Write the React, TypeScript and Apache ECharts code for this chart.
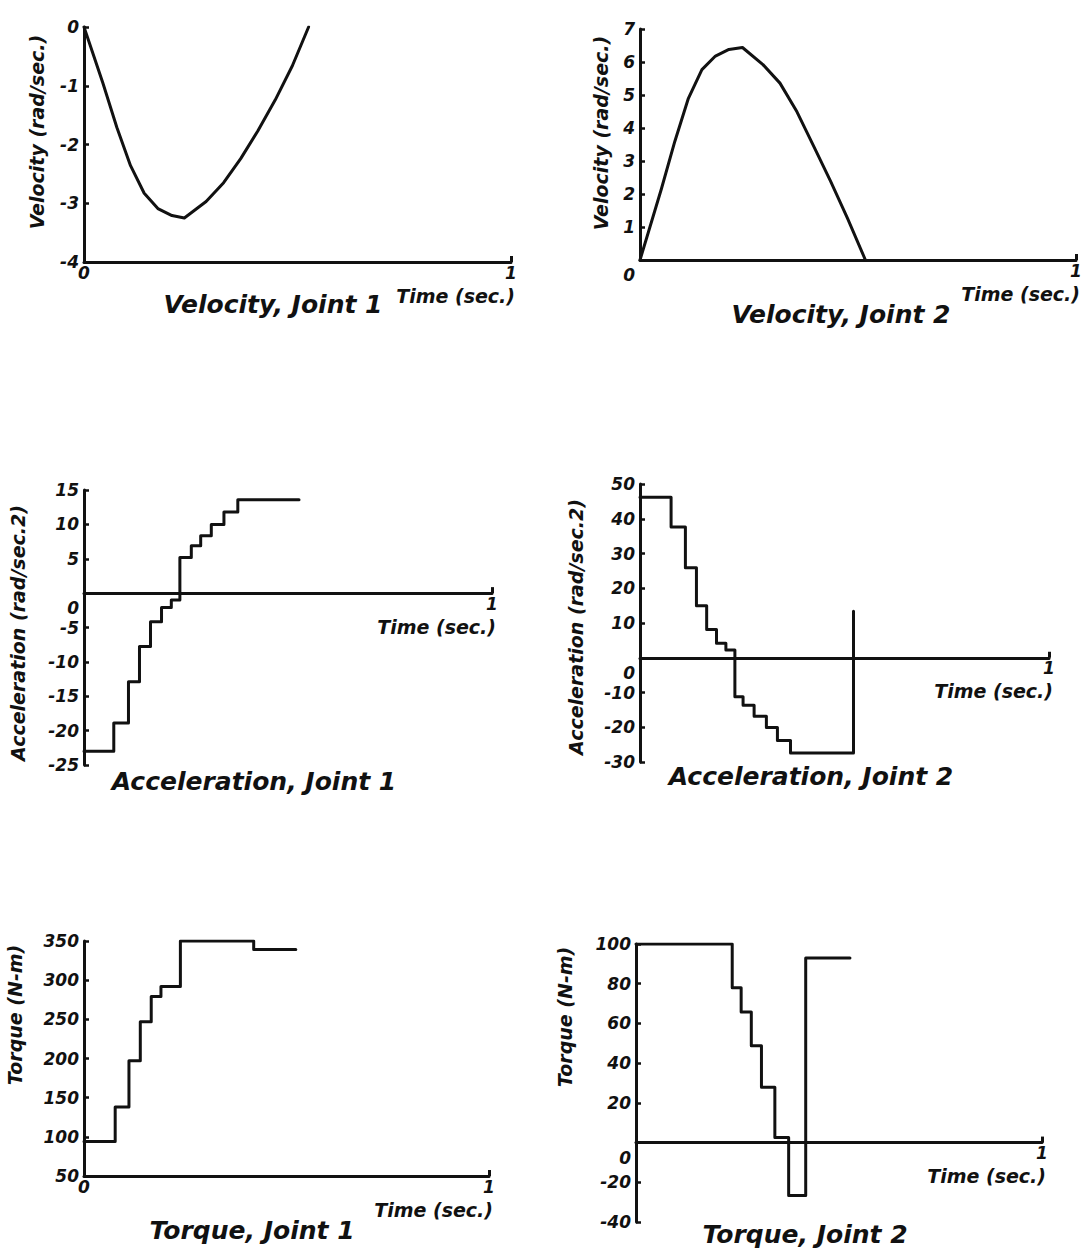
import React, { useEffect, useRef } from "react";
import * as echarts from "echarts";

// ---- Data ----
const velocity1Time = [0, 0.044, 0.077, 0.109, 0.141, 0.173, 0.206, 0.235, 0.286, 0.327, 0.367, 0.407, 0.448, 0.488, 0.526];
const velocity1Value = [0, -0.95, -1.71, -2.36, -2.83, -3.09, -3.21, -3.25, -2.97, -2.65, -2.24, -1.77, -1.24, -0.66, 0];

const velocity2Time = [0, 0.049, 0.08, 0.111, 0.142, 0.173, 0.204, 0.235, 0.282, 0.321, 0.36, 0.398, 0.437, 0.476, 0.517];
const velocity2Value = [0, 2.15, 3.6, 4.9, 5.77, 6.18, 6.38, 6.44, 5.92, 5.36, 4.49, 3.46, 2.39, 1.26, 0];

const accel1Time = [0, 0.073, 0.109, 0.136, 0.163, 0.19, 0.214, 0.235, 0.263, 0.286, 0.312, 0.343, 0.377, 0.527];
const accel1Value = [-23, -18.9, -12.9, -7.75, -4.15, -2.1, -1.0, 5.2, 6.9, 8.35, 10.0, 11.8, 13.6, 13.6];

const accel2Time = [0, 0.076, 0.111, 0.138, 0.163, 0.187, 0.21, 0.232, 0.252, 0.279, 0.309, 0.336, 0.368, 0.522, 0.522];
const accel2Value = [46.2, 37.6, 25.9, 15.0, 8.1, 4.2, 2.2, -11.2, -13.7, -16.8, -20.1, -23.8, -27.4, -27.4, 13.4];

const torque1Time = [0, 0.077, 0.111, 0.139, 0.166, 0.19, 0.238, 0.419, 0.523];
const torque1Value = [94, 138, 197, 247, 279, 292, 350, 339, 339];

const torque2Time = [0, 0.237, 0.259, 0.284, 0.309, 0.342, 0.376, 0.418, 0.527];
const torque2Value = [100, 78, 65.7, 48.7, 27.8, 2.6, -26.6, 93, 93];

const panelTitles = [
  "Velocity, Joint 1",
  "Velocity, Joint 2",
  "Acceleration, Joint 1",
  "Acceleration, Joint 2",
  "Torque, Joint 1",
  "Torque, Joint 2",
];
const yAxisNames = [
  "Velocity (rad/sec.)",
  "Velocity (rad/sec.)",
  "Acceleration (rad/sec.2)",
  "Acceleration (rad/sec.2)",
  "Torque (N-m)",
  "Torque (N-m)",
];
const yMin = [-4, 0, -25, -30, 50, -40];
const yMax = [0, 7, 15, 50, 350, 100];
const yInterval = [1, 1, 5, 10, 50, 20];
const xAxisName = "Time (sec.)";

// ---- Layout / style ----
const FONT = '"DejaVu Sans", "Liberation Sans", Arial, sans-serif';
const INK = "#111";

const grids = [
  { left: 84, top: 27, width: 427, height: 235 },
  { left: 640, top: 29, width: 436, height: 231 },
  { left: 84, top: 490, width: 408, height: 275 },
  { left: 640, top: 484, width: 409, height: 278 },
  { left: 84, top: 941, width: 405, height: 235 },
  { left: 636, top: 944, width: 406, height: 278 },
];
// x axis drawn through y = 0 (panels whose y range spans zero inside the plot)
const xThroughZero = [false, false, true, true, false, true];
const showX0 = [true, false, false, false, true, false];
const shiftY0 = [false, true, true, true, false, true];
const isStep = [false, false, true, true, true, true];

const titlePos = [
  [273, 304],
  [841, 314],
  [254, 781],
  [811, 776],
  [252, 1230],
  [805, 1234],
];
const yNamePos = [
  [37, 132],
  [601, 133],
  [18, 633],
  [576, 627],
  [15, 1015],
  [565, 1017],
];

const labelFont = {
  fontFamily: FONT,
  fontWeight: "bold" as const,
  fontStyle: "italic" as const,
  color: INK,
};

function zip(t: number[], v: number[]) {
  return t.map((x, i) => [x, v[i]]);
}

const seriesData = [
  zip(velocity1Time, velocity1Value),
  zip(velocity2Time, velocity2Value),
  zip(accel1Time, accel1Value),
  zip(accel2Time, accel2Value),
  zip(torque1Time, torque1Value),
  zip(torque2Time, torque2Value),
];

function buildOption() {
  const xAxis = grids.map((g, i) => ({
    type: "value",
    gridIndex: i,
    min: 0,
    max: 1,
    interval: 1,
    // move the whole axis (line, ticks, labels, name) up to the y = 0 level
    offset: xThroughZero[i] ? (-g.height * (0 - yMin[i])) / (yMax[i] - yMin[i]) : 0,
    axisLine: { show: true, onZero: false, lineStyle: { color: INK, width: 3 } },
    axisTick: { show: true, inside: true, length: 6, lineStyle: { color: INK, width: 3 } },
    splitLine: { show: false },
    axisLabel: {
      ...labelFont,
      fontSize: 17,
      margin: 2,
      formatter: (v: number) => (v === 0 && !showX0[i] ? "" : String(v)),
    },
    name: xAxisName,
    nameLocation: "end",
    nameGap: 4,
    nameTextStyle: {
      ...labelFont,
      fontSize: 19,
      align: "right",
      verticalAlign: "top",
      padding: [24, 0, 0, 0],
    },
  }));

  const yAxis = grids.map((_, i) => ({
    type: "value",
    gridIndex: i,
    min: yMin[i],
    max: yMax[i],
    interval: yInterval[i],
    axisLine: { show: true, onZero: false, lineStyle: { color: INK, width: 3 } },
    axisTick: { show: true, inside: true, length: 5, lineStyle: { color: INK, width: 2.5 } },
    splitLine: { show: false },
    axisLabel: {
      ...labelFont,
      fontSize: 17,
      margin: 5,
      formatter: (v: number) => (v === 0 && shiftY0[i] ? "{z|0}" : String(v)),
      rich: {
        z: { ...labelFont, fontSize: 17, padding: [30, 0, 0, 0] },
      },
    },
  }));

  const series = seriesData.map((d, i) => ({
    type: "line",
    xAxisIndex: i,
    yAxisIndex: i,
    data: d,
    step: isStep[i] ? "end" : false,
    showSymbol: false,
    symbol: "none",
    silent: true,
    lineStyle: { color: INK, width: 3, join: "round", cap: "round" },
  }));

  const graphic: any[] = [];
  panelTitles.forEach((t, i) => {
    graphic.push({
      type: "text",
      x: titlePos[i][0],
      y: titlePos[i][1],
      silent: true,
      style: {
        text: t,
        align: "center",
        verticalAlign: "middle",
        fontFamily: FONT,
        fontWeight: "bold",
        fontStyle: "italic",
        fontSize: 25,
        fill: INK,
      },
    });
  });
  yAxisNames.forEach((t, i) => {
    graphic.push({
      type: "text",
      x: yNamePos[i][0],
      y: yNamePos[i][1],
      rotation: Math.PI / 2,
      silent: true,
      style: {
        text: t,
        align: "center",
        verticalAlign: "middle",
        fontFamily: FONT,
        fontWeight: "bold",
        fontStyle: "italic",
        fontSize: 19,
        fill: INK,
      },
    });
  });

  return {
    animation: false,
    backgroundColor: "#ffffff",
    grid: grids.map((g) => ({ ...g, containLabel: false })),
    xAxis,
    yAxis,
    series,
    graphic,
  };
}

export default function App() {
  const ref = useRef<HTMLDivElement>(null);
  useEffect(() => {
    if (!ref.current) return;
    const chart = echarts.init(ref.current, undefined, { renderer: "svg" });
    chart.setOption(buildOption() as any);
    return () => chart.dispose();
  }, []);
  return (
    <div
      ref={ref}
      style={{
        position: "absolute",
        left: 0,
        top: 0,
        width: 1091,
        height: 1252,
        background: "#fff",
      }}
    />
  );
}
